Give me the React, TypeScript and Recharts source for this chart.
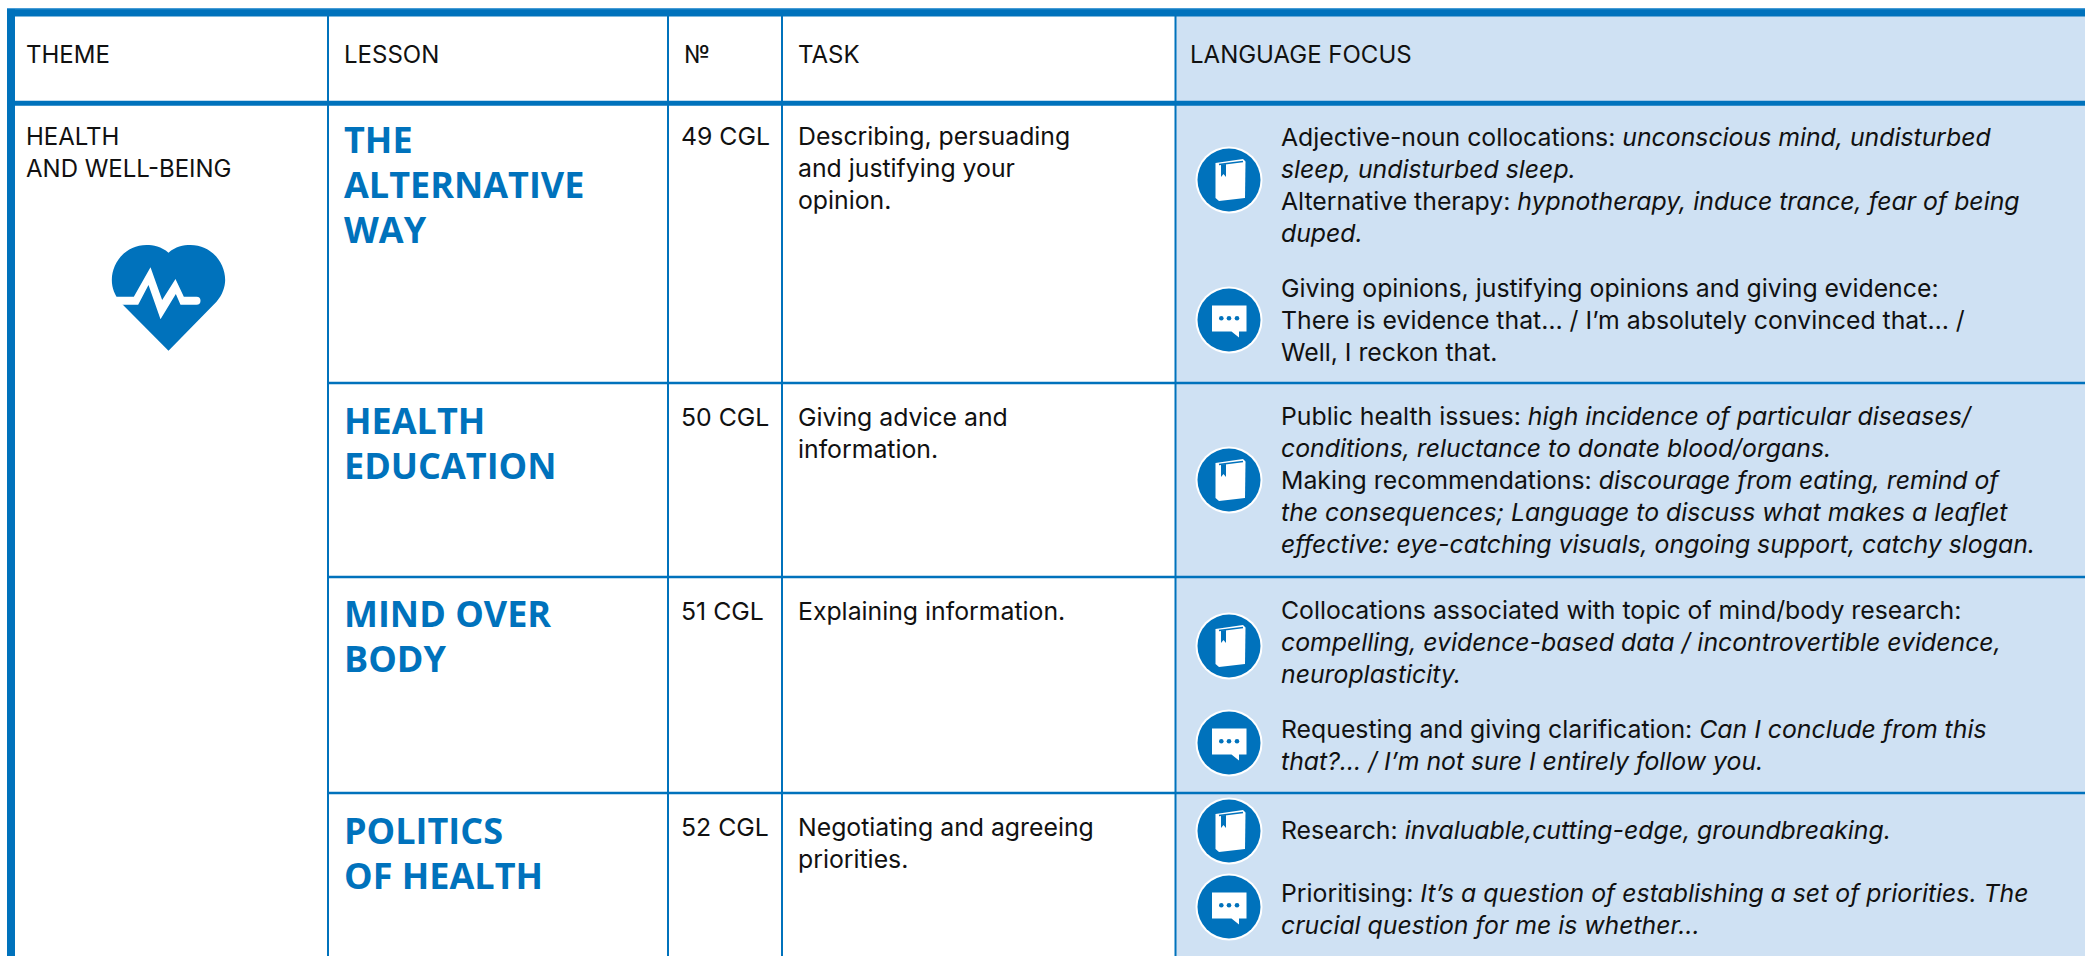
import { ReferenceArea, ReferenceLine, Scatter, ScatterChart, XAxis, YAxis } from 'recharts';

const WIDTH = 2085;
const HEIGHT = 956;
const BLUE = '#0072bc';
const PANEL = '#cfe1f3';
const FONT = 'Inter, sans-serif';
const TITLE_FONT = '"Open Sans", sans-serif';

// table content
const headers = ['THEME', 'LESSON', '№', 'TASK', 'LANGUAGE FOCUS'];
const themeLines = ['HEALTH', 'AND WELL-BEING'];
const lessonTitles = [
  ['THE', 'ALTERNATIVE', 'WAY'],
  ['HEALTH', 'EDUCATION'],
  ['MIND OVER', 'BODY'],
  ['POLITICS', 'OF HEALTH'],
];
const lessonCodes = ['49 CGL', '50 CGL', '51 CGL', '52 CGL'];
const taskLines = [
  ['Describing, persuading', 'and justifying your', 'opinion.'],
  ['Giving advice and', 'information.'],
  ['Explaining information.'],
  ['Negotiating and agreeing', 'priorities.'],
];
// "roman|italic" in each line
const focusBlocks = [
  [
    { icon: 'book', lines: ['Adjective-noun collocations: |unconscious mind, undisturbed', '|sleep, undisturbed sleep.', 'Alternative therapy: |hypnotherapy, induce trance, fear of being', '|duped.'] },
    { icon: 'chat', lines: ['Giving opinions, justifying opinions and giving evidence:', 'There is evidence that… / I’m absolutely convinced that… /', 'Well, I reckon that.'] },
  ],
  [
    { icon: 'book', lines: ['Public health issues: |high incidence of particular diseases/', '|conditions, reluctance to donate blood/organs.', 'Making recommendations: |discourage from eating, remind of', '|the consequences; Language to discuss what makes a leaflet', '|effective: eye-catching visuals, ongoing support, catchy slogan.'] },
  ],
  [
    { icon: 'book', lines: ['Collocations associated with topic of mind/body research:', '|compelling, evidence-based data / incontrovertible evidence,', '|neuroplasticity.'] },
    { icon: 'chat', lines: ['Requesting and giving clarification: |Can I conclude from this', '|that?… / I’m not sure I entirely follow you.'] },
  ],
  [
    { icon: 'book', lines: ['Research: |invaluable,cutting-edge, groundbreaking.'] },
    { icon: 'chat', lines: ['Prioritising: |It’s a question of establishing a set of priorities. The', '|crucial question for me is whether…'] },
  ],
];

// table layout, in axis units
const columnEdges = [328, 668, 782, 1175.5];
const rowEdges = [383, 577, 793];
const headerX = [26, 344, 684, 798, 1190];
const headerBaseline = 62.5;
const lessonBaselines = [152.7, 433.5, 627, 843.5];
const codeBaselines = [145, 426, 619.5, 835.5];
const focusBaselines = [[145.7, 296.7], [425], [619, 738.3], [839.3, 901.7]];
const iconCenters = [[180, 320], [480], [646, 743], [831, 907]];
const LINE = 32;
const TITLE_LINE = 45.2;

const capsPoints = [
  ...headers.map((text, i) => ({ x: headerX[i], y: headerBaseline, text })),
  ...themeLines.map((text, i) => ({ x: 26, y: 145 + i * LINE, text })),
];
const bodyPoints = [
  ...lessonCodes.map((text, i) => ({ x: 681, y: codeBaselines[i], text })),
  ...taskLines.flatMap((lines, r) => lines.map((text, i) => ({ x: 798, y: codeBaselines[r] + i * LINE, text }))),
  ...focusBlocks.flatMap((blocks, r) =>
    blocks.flatMap((block, b) => block.lines.map((text, i) => ({ x: 1281, y: focusBaselines[r][b] + i * LINE, text }))),
  ),
];
const titlePoints = lessonTitles.flatMap((lines, r) =>
  lines.map((text, i) => ({ x: 344, y: lessonBaselines[r] + i * TITLE_LINE, text })),
);
const iconPoints = focusBlocks.flatMap((blocks, r) =>
  blocks.map((block, b) => ({ x: 1229, y: iconCenters[r][b], icon: block.icon })),
);
const heartPoint = [{ x: 168.5, y: 298 }];

function CapsText({ cx, cy, payload }: any) {
  return (
    <text x={cx} y={cy} fontFamily={FONT} fontSize={24} fill="#111">
      {payload.text}
    </text>
  );
}

function BodyText({ cx, cy, payload }: any) {
  const parts: string[] = payload.text.split('|');
  return (
    <text x={cx} y={cy} fontFamily={FONT} fontSize={24.8} fill="#111">
      {parts.map((part, i) => (
        <tspan key={i} fontStyle={i % 2 ? 'italic' : 'normal'}>{part}</tspan>
      ))}
    </text>
  );
}

function TitleText({ cx, cy, payload }: any) {
  return (
    <text x={cx} y={cy} fontFamily={TITLE_FONT} fontSize={36} fontWeight={700} fill={BLUE}>
      {payload.text}
    </text>
  );
}

function FocusIcon({ cx, cy, payload }: any) {
  return (
    <g transform={`translate(${cx},${cy})`}>
      <circle r={33.5} fill="#fff" />
      <circle r={31.5} fill={BLUE} />
      {payload.icon === 'book' ? (
        <g>
          <path d="M-13.5 -17 L14 -21 L16.5 -18.5 L16 18 L-10 21 L-13.5 18 Z" fill="#fff" />
          <path d="M-10 -15.5 L14 -18.5" stroke={BLUE} strokeWidth={1.6} fill="none" />
          <path d="M-8 -15.5 L-3 -16 L-3 -3 L-5.5 -6 L-8 -3 Z" fill={BLUE} />
        </g>
      ) : (
        <g>
          <path d="M-17 -14.5 H17.5 V11.5 H10 V17.5 L2.5 11.5 H-17 Z" fill="#fff" />
          <circle cx={-7.7} cy={-1.7} r={2.3} fill={BLUE} />
          <circle cx={0} cy={-1.7} r={2.3} fill={BLUE} />
          <circle cx={8} cy={-1.7} r={2.3} fill={BLUE} />
        </g>
      )}
    </g>
  );
}

function HeartIcon({ cx, cy }: any) {
  return (
    <g transform={`translate(${cx},${cy}) scale(0.3333) translate(-236,-204)`}>
      <path
        d="M236 68 C215 50 190 45 170 45 C110 45 66 95 66 150 C66 175 75 195 90 215 L236 362 L380 215 C398 195 406 170 406 150 C406 95 362 45 302 45 C280 45 257 50 236 68 Z"
        fill={BLUE}
      />
      <path
        d="M60 200 H132 L182 112 L217 210 L257 147 L282 200 H320 A12 12 0 0 1 320 224 H272 L258 192 L212 268 L176 165 L145 224 H60 Z"
        fill="#fff"
      />
    </g>
  );
}

export default function App() {
  return (
    <div style={{ position: 'absolute', left: 0, top: 0 }}>
      <ScatterChart width={WIDTH} height={HEIGHT} margin={{ top: 0, right: 0, bottom: 0, left: 0 }}>
        <XAxis type="number" dataKey="x" domain={[0, WIDTH]} hide />
        <YAxis type="number" dataKey="y" domain={[0, HEIGHT]} reversed hide />

        {/* Language focus panel */}
        <ReferenceArea x1={1175.5} x2={WIDTH} y1={16} y2={HEIGHT} fill={PANEL} fillOpacity={1} stroke="none" />

        {/* Grid */}
        {columnEdges.map((x) => (
          <ReferenceLine key={x} segment={[{ x, y: 16 }, { x, y: HEIGHT }]} stroke={BLUE} strokeWidth={2} />
        ))}
        {rowEdges.map((y) => (
          <ReferenceLine key={y} segment={[{ x: 328, y }, { x: WIDTH, y }]} stroke={BLUE} strokeWidth={2.5} />
        ))}
        <ReferenceArea x1={7} x2={WIDTH} y1={8.3} y2={16.6} fill={BLUE} fillOpacity={1} stroke="none" />
        <ReferenceArea x1={7} x2={WIDTH} y1={8.3} y2={9.3} fill="#4a9fd8" fillOpacity={1} stroke="none" />
        <ReferenceArea x1={7} x2={15} y1={9.3} y2={HEIGHT} fill={BLUE} fillOpacity={1} stroke="none" />
        <ReferenceArea x1={15} x2={WIDTH} y1={100.7} y2={105.7} fill={BLUE} fillOpacity={1} stroke="none" />

        <Scatter data={capsPoints} shape={CapsText} isAnimationActive={false} />
        <Scatter data={bodyPoints} shape={BodyText} isAnimationActive={false} />
        <Scatter data={titlePoints} shape={TitleText} isAnimationActive={false} />
        <Scatter data={iconPoints} shape={FocusIcon} isAnimationActive={false} />
        <Scatter data={heartPoint} shape={HeartIcon} isAnimationActive={false} />
      </ScatterChart>
    </div>
  );
}
